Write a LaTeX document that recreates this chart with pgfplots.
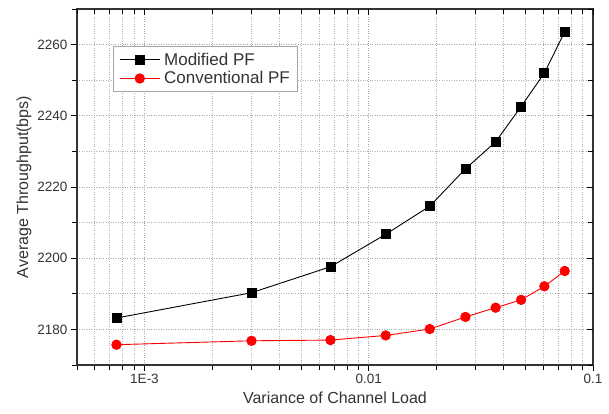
\documentclass[border=0pt]{standalone}
\usepackage{pgfplots}
\pgfplotsset{compat=1.18}
\usepackage{fontspec}
\setmainfont{Liberation Sans}

\definecolor{txt}{gray}{0.2}

\begin{document}
\begin{tikzpicture}
\begin{axis}[
    name=main,
    xmode=log, scale only axis,
    width=516pt, height=356pt,
    xmin=0.0005, xmax=0.1,
    ymin=2170, ymax=2270,
    xtick={0.001,0.01,0.1},
    minor xtick={0.0005,0.0006,0.0007,0.0008,0.0009,
                 0.002,0.003,0.004,0.005,0.006,0.007,0.008,0.009,
                 0.02,0.03,0.04,0.05,0.06,0.07,0.08,0.09},
    ytick={2180,2200,2220,2240,2260},
    minor ytick={2170,2190,2210,2230,2250,2270},
    major tick length=6pt, minor tick length=5pt,
    every tick/.style={black, line width=0.8pt},
    axis line style={line width=1.4pt, black!80},
    tick align=outside,
    xtick pos=left, ytick pos=left,
    xticklabels={1E-3,0.01,0.1},
    /pgf/number format/assume math mode=true,
    /pgf/number format/1000 sep={},
    ticklabel style={font=\fontsize{13.5}{15}\selectfont, text=txt},
    label style={font=\fontsize{16}{18}\selectfont, text=txt},
    xlabel={Variance of Channel Load},
    ylabel={Average Throughput(bps)},
    xlabel style={yshift=-1pt},
    ylabel style={yshift=-1pt},
    grid=both,
    major grid style={dotted, gray!70, line width=0.9pt},
    minor grid style={dotted, gray!60, line width=0.9pt},
    legend style={at={(0.0698,0.895)}, anchor=north west,
      draw=gray!70, line width=0.8pt, fill=white,
      font=\fontsize{17}{19}\selectfont, text=txt,
      inner xsep=6pt, inner ysep=4pt, row sep=1pt},
    legend cell align=left,
    legend image code/.code={
      \draw[mark repeat=2, mark phase=2, #1]
        plot coordinates {(0cm,0cm) (0.7cm,0cm) (1.4cm,0cm)};},
]
\addplot[black, line width=0.9pt, mark=square*, mark size=4.5pt,
  mark options={solid, fill=black}]
  coordinates {
  (0.00075,2183.2) (0.0030,2190.3) (0.00675,2197.6) (0.0119,2206.7)
  (0.0187,2214.6) (0.0270,2225.1) (0.0368,2232.7) (0.0478,2242.6)
  (0.0607,2252.0) (0.0748,2263.6)};
\addlegendentry{\hspace{2pt}Modified PF}
\addplot[red, line width=0.9pt, mark=*, mark size=4.7pt,
  mark options={solid, fill=red, draw=red}]
  coordinates {
  (0.00075,2175.7) (0.0030,2176.8) (0.00675,2177.0) (0.0119,2178.3)
  (0.0187,2180.1) (0.0270,2183.5) (0.0368,2186.1) (0.0478,2188.3)
  (0.0607,2192.1) (0.0748,2196.4)};
\addlegendentry{\hspace{2pt}Conventional PF}
\end{axis}
\begin{axis}[
    xmode=log, scale only axis,
    width=516pt, height=356pt,
    xmin=0.0005, xmax=0.1,
    ymin=2170, ymax=2270,
    xtick={0.001,0.01,0.1},
    minor xtick={0.0005,0.0006,0.0007,0.0008,0.0009,
                 0.002,0.003,0.004,0.005,0.006,0.007,0.008,0.009,
                 0.02,0.03,0.04,0.05,0.06,0.07,0.08,0.09},
    ytick={2180,2200,2220,2240,2260},
    minor ytick={2170,2190,2210,2230,2250,2270},
    major tick length=6pt, minor tick length=5pt,
    every tick/.style={black, line width=0.8pt},
    axis line style={draw=none},
    tick align=inside,
    xtick pos=right, ytick pos=right,
    xticklabels={}, yticklabels={},
]
\addplot[draw=none] coordinates {(0.001,2200)};
\end{axis}
\path ([shift={(-77pt,-49pt)}]main.south west)
  rectangle ([shift={(16pt,9pt)}]main.north east);
\end{tikzpicture}
\end{document}
